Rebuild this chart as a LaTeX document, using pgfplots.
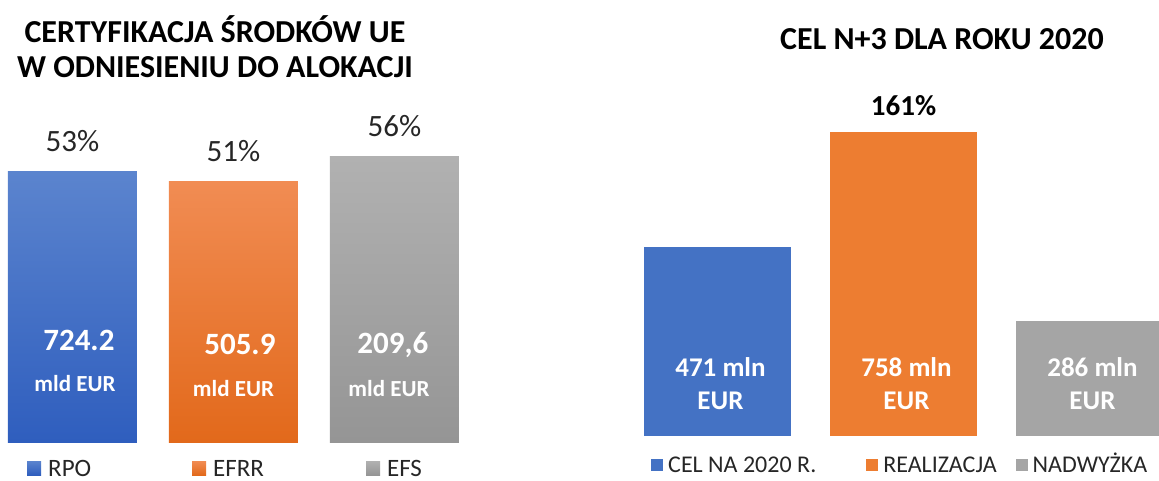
\documentclass[border=0pt]{standalone}
\usepackage{pgfplots}
\pgfplotsset{compat=1.18}
\usepackage{fontspec}
\setmainfont{Carlito}
\definecolor{bluetop}{HTML}{5B84CE}
\definecolor{bluebot}{HTML}{2F5EBE}
\definecolor{orgtop}{HTML}{F18C53}
\definecolor{orgbot}{HTML}{E2691B}
\definecolor{graytop}{HTML}{B1B1B1}
\definecolor{graybot}{HTML}{959595}
\definecolor{cblue}{HTML}{4472C4}
\definecolor{corange}{HTML}{ED7D31}
\definecolor{cgray}{HTML}{A5A5A5}
\definecolor{txt}{HTML}{262626}
\newcommand{\fs}[1]{\fontsize{#1}{#1}\selectfont}
\begin{document}
\begin{tikzpicture}
\path[use as bounding box] (0pt,0pt) rectangle (1159pt,480pt);
\clip (0pt,0pt) rectangle (1159pt,480pt);
% titles
\node[anchor=base, font=\fs{32}\bfseries, text=black, inner sep=0pt] at (215pt,437pt) {CERTYFIKACJA ŚRODKÓW UE};
\node[anchor=base, font=\fs{32}\bfseries, text=black, inner sep=0pt] at (215pt,402pt) {W ODNIESIENIU DO ALOKACJI};
\node[anchor=base, font=\fs{32}\bfseries, text=black, inner sep=0pt] at (942pt,430pt) {CEL N+3 DLA ROKU 2020};

% left chart
\begin{axis}[
  at={(0pt,38pt)}, anchor=south west,
  scale only axis, width=466.9pt, height=306pt,
  xmin=-0.45, xmax=2.45, ymin=0, ymax=60,
  hide axis, clip=false,
  ybar, bar width=129pt, bar shift=0pt,
  legend columns=3,
  legend image code/.code={\fill[#1,draw=none] (0pt,-7pt) rectangle (14pt,7pt);},
  legend style={draw=none, fill=none, inner sep=0pt, at={(0.0578,-0.0850)}, anchor=west,
    font=\fs{25}, text=txt,
    nodes={inner sep=0pt, text height=16pt, text depth=0pt},
    column sep=7pt,
    /tikz/column 2/.style={column sep=101pt},
    /tikz/column 4/.style={column sep=102pt}},
]
\addplot[draw=none, top color=bluetop, bottom color=bluebot] coordinates {(0,53)};
\addlegendentry{RPO}
\addplot[draw=none, top color=orgtop, bottom color=orgbot] coordinates {(1,51)};
\addlegendentry{EFRR}
\addplot[draw=none, top color=graytop, bottom color=graybot] coordinates {(2,56)};
\addlegendentry{EFS}
\node[anchor=base, font=\fs{31}, text=txt, yshift=20pt] at (axis cs:0,53) {53\%};
\node[anchor=base, font=\fs{31}, text=txt, yshift=20pt] at (axis cs:1,51) {51\%};
\node[anchor=base, font=\fs{31}, text=txt, yshift=20pt] at (axis cs:2,56) {56\%};
\node[anchor=base, font=\fs{31}\bfseries, text=white] at (axis cs:0.04,18.0) {724.2};
\node[anchor=base, font=\fs{23}\bfseries, text=white] at (axis cs:0.016,9.86) {mld EUR};
\node[anchor=base, font=\fs{31}\bfseries, text=white] at (axis cs:1.04,17.06) {505.9};
\node[anchor=base, font=\fs{23}\bfseries, text=white] at (axis cs:1.0,8.9) {mld EUR};
\node[anchor=base, font=\fs{31}\bfseries, text=white] at (axis cs:1.99,17.45) {209,6};
\node[anchor=base, font=\fs{23}\bfseries, text=white] at (axis cs:1.966,8.9) {mld EUR};
\end{axis}

% right chart
\begin{axis}[
  at={(624.5pt,44.5pt)}, anchor=south west,
  scale only axis, width=558pt, height=360pt,
  xmin=-0.5, xmax=2.5, ymin=0, ymax=900,
  hide axis, clip=false,
  ybar, bar width=147pt, bar shift=0pt,
  legend columns=3,
  legend image code/.code={\fill[#1,draw=none] (0pt,-6pt) rectangle (12pt,6pt);},
  legend style={draw=none, fill=none, inner sep=0pt, at={(0.0475,-0.0819)}, anchor=west,
    font=\fs{24}, text=txt,
    nodes={inner sep=0pt, text height=15.5pt, text depth=0pt},
    column sep=5pt,
    /tikz/column 2/.style={column sep=50pt},
    /tikz/column 4/.style={column sep=19pt}},
]
\addplot[draw=none, fill=cblue] coordinates {(0,471)};
\addlegendentry{CEL NA 2020 R.}
\addplot[draw=none, fill=corange] coordinates {(1,758)};
\addlegendentry{REALIZACJA}
\addplot[draw=none, fill=cgray] coordinates {(2,286)};
\addlegendentry{NADWYŻKA}
\node[anchor=base, font=\fs{29}\bfseries, text=black, yshift=17pt] at (axis cs:1,758) {161\%};
\node[anchor=base, font=\fs{27}\bfseries, text=white] at (axis cs:0.016,147) {471 mln};
\node[anchor=base, font=\fs{27}\bfseries, text=white] at (axis cs:0.016,64) {EUR};
\node[anchor=base, font=\fs{27}\bfseries, text=white] at (axis cs:1.016,147) {758 mln};
\node[anchor=base, font=\fs{27}\bfseries, text=white] at (axis cs:1.016,64) {EUR};
\node[anchor=base, font=\fs{27}\bfseries, text=white] at (axis cs:2.016,147) {286 mln};
\node[anchor=base, font=\fs{27}\bfseries, text=white] at (axis cs:2.016,64) {EUR};
\end{axis}
\end{tikzpicture}
\end{document}
